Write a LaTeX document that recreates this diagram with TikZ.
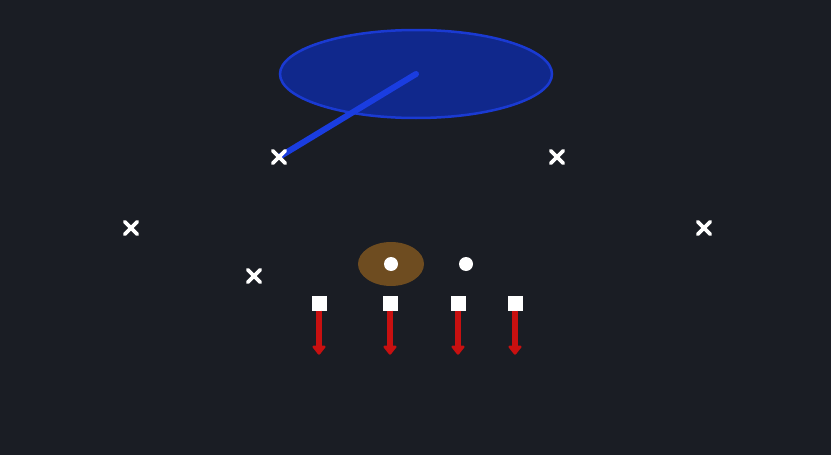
\documentclass[tikz,border=0pt]{standalone}
\usepackage{tikz}
\usetikzlibrary{arrows.meta,positioning,shapes.misc,shapes.geometric}

\definecolor{field}{RGB}{26,29,36}
\definecolor{zonefill}{RGB}{16,40,140}
\definecolor{zoneedge}{RGB}{26,58,210}
\definecolor{routeblue}{RGB}{26,61,224}
\definecolor{ballbrown}{RGB}{110,76,32}
\definecolor{blockred}{RGB}{200,16,16}

\pgfdeclarelayer{front}
\pgfsetlayers{main,front}

\tikzset{
    defender/.style = {cross out, draw=white, line width=3.8pt, line cap=round, minimum size=9pt, inner sep=0pt},
    lineman/.style  = {rectangle, fill=white, minimum size=15pt, inner sep=0pt},
    back/.style     = {circle, fill=white, minimum size=14pt, inner sep=0pt},
    block/.style    = {draw=blockred, line width=5.5pt, -{Triangle[width=15pt,length=10pt,round]}},
}

\begin{document}
\begin{tikzpicture}[x=1pt, y=-1pt]
                \fill[field] (0,0) rectangle (831,455);
                \useasboundingbox (0,0) rectangle (831,455);

                % coverage zone
                \node[ellipse, fill=zonefill, draw=zoneedge, line width=2.5pt,
                      minimum width=272pt, minimum height=88pt] (zone) at (416,74) {};

                % defense
                \begin{pgfonlayer}{front}
                \node[defender] (d_1) at (279,157) {};
                \node[defender] (d_2) at (557,157) {};
                \node[defender] (d_3) at (131,228) {};
                \node[defender] (d_4) at (704,228) {};
                \node[defender] (d_5) at (254,276) {};
                \end{pgfonlayer}

                \draw[routeblue, line width=6pt, line cap=round] (d_1.center) -- (zone.center);

                % backfield
                \node[ellipse, fill=ballbrown, minimum width=66pt, minimum height=44pt] (ball) at (391,264) {};
                \node[back] (qb) at (391,264) {};
                \node[back] (rb) at (466,264) {};

                % line
                \node[lineman] (ol_1) at (319,303) {};
                \node[lineman] (ol_2) at (390,303) {};
                \node[lineman] (ol_3) at (458,303) {};
                \node[lineman] (ol_4) at (515,303) {};

                \foreach \i in {1,...,4} {
                    \coordinate (end_\i) at ([yshift=-44pt]ol_\i.south);
                    \draw[block] (ol_\i.south) -- (end_\i);
                }
            \end{tikzpicture}
\end{document}
